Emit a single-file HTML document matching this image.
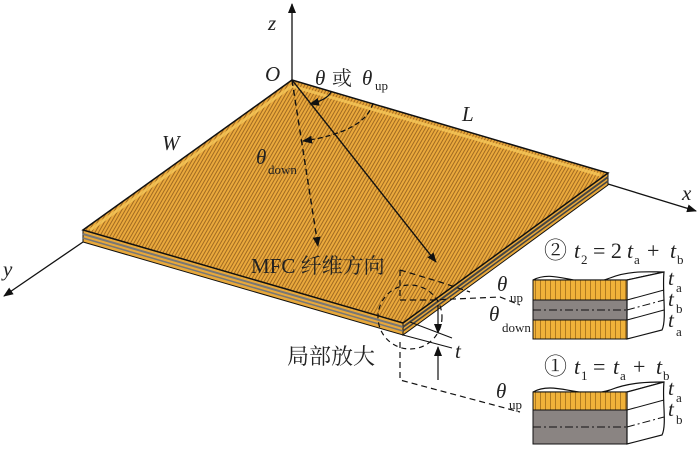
<!DOCTYPE html>
<html><head><meta charset="utf-8"><style>
html,body{margin:0;padding:0;background:#fff}
svg{display:block}
text{font-family:"Liberation Serif","Noto Serif CJK SC",serif;fill:#222}
.it{font-style:italic}
</style></head><body>
<svg width="700" height="457" viewBox="0 0 700 457" xmlns="http://www.w3.org/2000/svg">
<defs>
<pattern id="st" width="3" height="3" patternUnits="userSpaceOnUse" patternTransform="rotate(30)">
<rect width="3" height="3" fill="#eaa93c"/><rect width="1" height="3" fill="#a06a22"/>
</pattern>
<pattern id="vs" width="5" height="10" patternUnits="userSpaceOnUse">
<rect width="5" height="10" fill="#f0b23a"/><rect width="1" height="10" fill="#b07a20"/>
</pattern>
<marker id="ar" markerWidth="10" markerHeight="8" refX="9" refY="4" orient="auto" markerUnits="userSpaceOnUse"><path d="M0,0 L10,4 L0,8 Z" fill="#111"/></marker>
</defs>
<line x1="292" y1="80" x2="292" y2="4" stroke="#111" stroke-width="1.3" marker-end="url(#ar)"/>
<line x1="608" y1="184" x2="696" y2="211" stroke="#111" stroke-width="1.3" marker-end="url(#ar)"/>
<line x1="83" y1="242" x2="4" y2="296" stroke="#111" stroke-width="1.3" marker-end="url(#ar)"/>
<polygon points="83,230 403,323 403,335 83,242" fill="#e8a83a" stroke="#111" stroke-width="1"/>
<polygon points="403,323 608,173 608,185 403,335" fill="#e8a83a" stroke="#111" stroke-width="1"/>
<line x1="83" y1="234" x2="403" y2="327" stroke="#777" stroke-width="2"/>
<line x1="83" y1="238" x2="403" y2="331" stroke="#777" stroke-width="1.5"/>
<line x1="403" y1="327" x2="608" y2="177" stroke="#444" stroke-width="2"/>
<line x1="403" y1="331" x2="608" y2="181" stroke="#444" stroke-width="1.5"/>
<polygon points="292,80 608,173 403,323 83,230" fill="url(#st)" stroke="#111" stroke-width="1.5"/>
<polyline points="90,230 292,86 600,175" fill="none" stroke="#f6c85a" stroke-width="3" opacity="0.8"/>
<line x1="292" y1="80" x2="436" y2="262" stroke="#111" stroke-width="1.4" marker-end="url(#ar)"/>
<line x1="292" y1="80" x2="318" y2="246" stroke="#111" stroke-width="1.4" stroke-dasharray="6,4" marker-end="url(#ar)"/>
<path d="M331,92 Q327,100 310,104" fill="none" stroke="#111" stroke-width="1.3" marker-end="url(#ar)"/>
<path d="M373,103 Q365,132 303,141" fill="none" stroke="#111" stroke-width="1.3" stroke-dasharray="5,3" marker-end="url(#ar)"/>
<ellipse cx="410" cy="317" rx="32" ry="32" fill="none" stroke="#111" stroke-width="1.2" stroke-dasharray="5,4"/>
<polyline points="400,270 400,300 432,300 500,297 520,305" fill="none" stroke="#111" stroke-width="1.2" stroke-dasharray="6,4"/>
<polyline points="400,342 400,380 520,412" fill="none" stroke="#111" stroke-width="1.2" stroke-dasharray="6,4"/>
<polyline points="400,270 440,282 470,292" fill="none" stroke="#111" stroke-width="1.2" stroke-dasharray="6,4"/>
<line x1="403" y1="335" x2="452" y2="348" stroke="#111" stroke-width="1"/>
<line x1="410" y1="322" x2="452" y2="338" stroke="#111" stroke-width="1"/>
<line x1="438" y1="305" x2="438" y2="333" stroke="#111" stroke-width="1.2" marker-end="url(#ar)"/>
<line x1="438" y1="380" x2="438" y2="347" stroke="#111" stroke-width="1.2" marker-end="url(#ar)"/>
<!-- inset 2 -->
<path d="M533,280 C555,268 580,290 610,278 C630,270 650,272 664,272 L627,280 Z" fill="#fff" stroke="#111" stroke-width="1.2"/>
<rect x="533" y="280" width="94" height="20" fill="url(#vs)" stroke="#111"/>
<rect x="533" y="300" width="94" height="20" fill="#8a8482" stroke="#111"/>
<rect x="533" y="320" width="94" height="19" fill="url(#vs)" stroke="#111"/>
<line x1="533" y1="310" x2="627" y2="310" stroke="#111" stroke-dasharray="8,3,2,3"/>
<path d="M627,280 L664,272 C662,290 667,320 662,330 L627,339 Z" fill="#fff" stroke="#111" stroke-width="1.2"/>
<line x1="627" y1="300" x2="664" y2="290" stroke="#111"/>
<line x1="627" y1="320" x2="664" y2="310" stroke="#111"/>
<line x1="627" y1="310" x2="664" y2="300" stroke="#111" stroke-dasharray="8,3,2,3"/>
<!-- inset 1 -->
<path d="M533,392 C555,380 580,400 610,390 C630,382 650,382 664,382 L627,392 Z" fill="#fff" stroke="#111" stroke-width="1.2"/>
<rect x="533" y="392" width="94" height="18" fill="url(#vs)" stroke="#111"/>
<rect x="533" y="410" width="94" height="34" fill="#8a8482" stroke="#111"/>
<line x1="533" y1="427" x2="627" y2="427" stroke="#111" stroke-dasharray="8,3,2,3"/>
<path d="M627,392 L664,382 C662,400 667,425 662,435 L627,444 Z" fill="#fff" stroke="#111" stroke-width="1.2"/>
<line x1="627" y1="410" x2="664" y2="400" stroke="#111"/>
<line x1="627" y1="427" x2="664" y2="417" stroke="#111" stroke-dasharray="8,3,2,3"/>
<!-- labels -->
<text x="268" y="30" class="it" font-size="21">z</text>
<text x="265" y="81" class="it" font-size="21">O</text>
<text x="315" y="85" class="it" font-size="21">θ</text><text x="332" y="85" font-size="20">或</text><text x="362" y="85" class="it" font-size="21">θ</text><text x="375" y="90" font-size="13">up</text>
<text x="462" y="121" class="it" font-size="21">L</text>
<text x="162" y="150" class="it" font-size="21">W</text>
<text x="256" y="164" class="it" font-size="21">θ</text><text x="268" y="174" font-size="13">down</text>
<text x="682" y="200" class="it" font-size="21">x</text>
<text x="3" y="276" class="it" font-size="21">y</text>
<text x="251" y="273" font-size="21">MFC 纤维方向</text>
<text x="287" y="364" font-size="22">局部放大</text>
<text x="455" y="358" class="it" font-size="21">t</text>
<text x="497" y="291" class="it" font-size="21">θ</text><text x="510" y="302" font-size="13">up</text>
<text x="489" y="321" class="it" font-size="21">θ</text><text x="502" y="332" font-size="13">down</text>
<text x="496" y="398" class="it" font-size="21">θ</text><text x="509" y="409" font-size="13">up</text>
<text x="544" y="258" font-size="23">②</text><text x="574" y="258" class="it" font-size="22">t</text><text x="581" y="264" font-size="13">2</text><text x="593" y="258" font-size="22">= 2</text><text x="627" y="258" class="it" font-size="22">t</text><text x="634" y="264" font-size="13">a</text><text x="647" y="258" font-size="22">+</text><text x="670" y="258" class="it" font-size="22">t</text><text x="677" y="264" font-size="13">b</text>
<text x="544" y="374" font-size="23">①</text><text x="574" y="374" class="it" font-size="22">t</text><text x="581" y="380" font-size="13">1</text><text x="593" y="374" font-size="22">=</text><text x="613" y="374" class="it" font-size="22">t</text><text x="620" y="380" font-size="13">a</text><text x="633" y="374" font-size="22">+</text><text x="656" y="374" class="it" font-size="22">t</text><text x="663" y="380" font-size="13">b</text>
<text x="668" y="285" class="it" font-size="21">t</text><text x="676" y="292" font-size="13">a</text>
<text x="668" y="306" class="it" font-size="21">t</text><text x="676" y="313" font-size="13">b</text>
<text x="668" y="327" class="it" font-size="21">t</text><text x="676" y="336" font-size="13">a</text>
<text x="668" y="395" class="it" font-size="21">t</text><text x="676" y="402" font-size="13">a</text>
<text x="668" y="416" class="it" font-size="21">t</text><text x="676" y="424" font-size="13">b</text>
</svg>
</body></html>
